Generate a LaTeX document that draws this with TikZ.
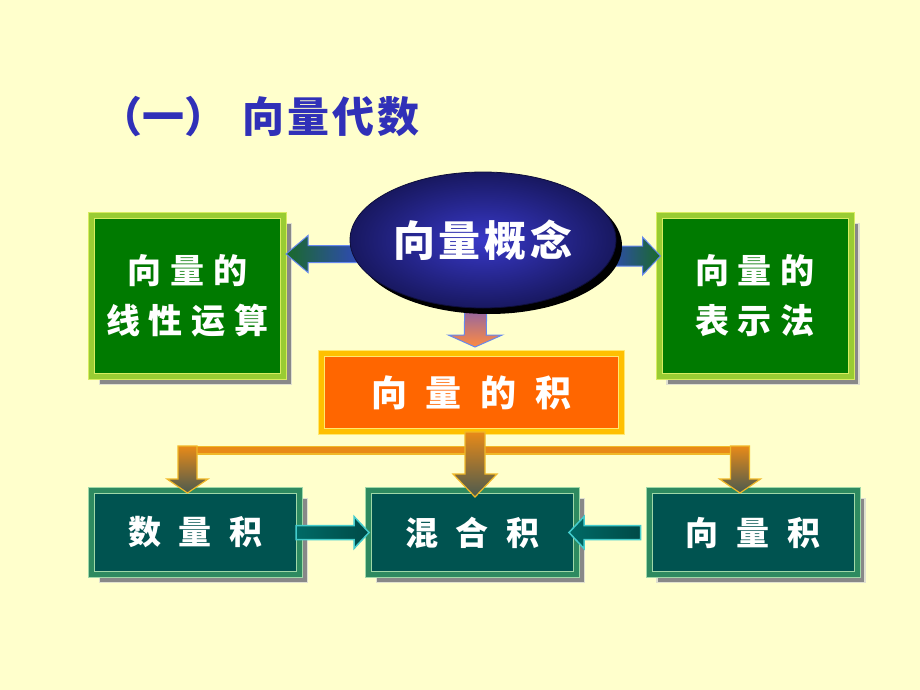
\documentclass[tikz,border=0pt]{standalone}
\usepackage{fontspec}
\newfontfamily\cjk{Noto Sans CJK SC}
\usetikzlibrary{calc,shapes.geometric,shadows}
\definecolor{bgc}{HTML}{FFFFCC}
\definecolor{titlec}{HTML}{3030B8}
\definecolor{gfill}{HTML}{007A00}
\definecolor{gband}{HTML}{99CC33}
\definecolor{gline}{HTML}{D8EC60}
\definecolor{ofill}{HTML}{FF6600}
\definecolor{oband}{HTML}{FFC000}
\definecolor{oline}{HTML}{FFE870}
\definecolor{tfill}{HTML}{005350}
\definecolor{tband}{HTML}{2E8A60}
\definecolor{tline}{HTML}{A0D8A8}
\definecolor{shadowc}{HTML}{888888}
\definecolor{shadowl}{HTML}{E0E0D0}
\definecolor{ein}{HTML}{3838C8}
\definecolor{eout}{HTML}{181860}
\definecolor{abl}{HTML}{3344CC}
\definecolor{agr}{HTML}{1A6A2A}
\definecolor{aline}{HTML}{6688EE}
\definecolor{aor}{HTML}{FF8C40}
\definecolor{apu}{HTML}{6655CC}
\definecolor{cgold}{HTML}{F0B828}
\definecolor{cor}{HTML}{E88A18}
\definecolor{cdark}{HTML}{4A5A50}
\definecolor{tearr}{HTML}{006A66}
\definecolor{tedge}{HTML}{44CCCC}

% horizontal / vertical block arrows: tail, tip, shaft half, head half, head length, style
\newcommand\harrow[6]{%
  \coordinate (hb) at ($(#2)!#5pt!(#1)$);
  \path[#6] ($(#1)+(0,-#3)$) -- ($(hb)+(0,-#3)$) -- ($(hb)+(0,-#4)$) -- (#2)
    -- ($(hb)+(0,#4)$) -- ($(hb)+(0,#3)$) -- ($(#1)+(0,#3)$) -- cycle;}
\newcommand\varrow[6]{%
  \coordinate (hb) at ($(#2)!#5pt!(#1)$);
  \path[#6] ($(#1)+(-#3,0)$) -- ($(hb)+(-#3,0)$) -- ($(hb)+(-#4,0)$) -- (#2)
    -- ($(hb)+(#4,0)$) -- ($(hb)+(#3,0)$) -- ($(#1)+(#3,0)$) -- cycle;}

\begin{document}
\begin{tikzpicture}[x=1pt,y=-1pt,
  boxshadow/.style={general shadow={fill=shadowc, draw=shadowl, line width=1.2pt, shadow xshift=8pt, shadow yshift=-8pt}},
  gbox/.style={boxshadow, draw=gline, double=gband, double distance=5pt, line width=1pt, fill=gfill,
    minimum width=192pt, minimum height=161pt, inner sep=0pt, text=white,
    font=\cjk\bfseries\fontsize{34}{50}\selectfont, align=center},
  obox/.style={draw=oline, double=oband, double distance=5pt, line width=1pt, fill=ofill,
    minimum width=300pt, minimum height=78pt, inner sep=0pt, text=white,
    font=\cjk\bfseries\fontsize{36}{40}\selectfont},
  tbox/.style={boxshadow, draw=tline, double=tband, double distance=5pt, line width=1pt, fill=tfill,
    minimum width=208pt, minimum height=84pt, inner sep=0pt, text=white,
    font=\cjk\bfseries\fontsize{33}{40}\selectfont},
  bluearrowL/.style={left color=agr, right color=abl, draw=aline, line width=1pt},
  bluearrowR/.style={left color=abl, right color=agr, draw=aline, line width=1pt},
  downarrow/.style={top color=apu, bottom color=aor, draw=aline, line width=1pt},
  orarrow/.style={top color=cor, bottom color=cdark, draw=cgold, line width=1.2pt},
  tearrow/.style={left color=tearr, right color=tearr!70!black, draw=tedge, line width=1.5pt},
]
\useasboundingbox (0,0) rectangle (920,690);
\fill[bgc] (0,0) rectangle (920,690);

% title
\node[anchor=west, text=titlec, font=\cjk\bfseries\fontsize{42}{46}\selectfont, inner sep=0pt] (T) at (100,117) {（一）\kern16pt 向\kern3pt 量\kern3pt 代\kern3pt 数};

% boxes
\node[gbox] (L) at (187.5,296) {向\kern9pt 量\kern9pt 的\\线\kern9pt 性\kern9pt 运\kern9pt 算};
\node[gbox] (R) at (755,296) {向\kern9pt 量\kern9pt 的\\表\kern9pt 示\kern9pt 法};
\node[obox] (O) at (471.5,392.5) {向\kern19pt 量\kern19pt 的\kern19pt 积};
\node[tbox] (B1) at (195.5,532.5) {数\kern18pt 量\kern18pt 积};
\node[tbox] (B2) at (472.5,532.5) {混\kern18pt 合\kern18pt 积};
\node[tbox] (B3) at (753,532.5) {向\kern18pt 量\kern18pt 积};

% orange distribution connector
\coordinate (hl) at (178,450);
\coordinate (hr) at (750,450);
\draw[cgold, line width=9pt] (hl) -- (hr);
\draw[cor, line width=5.5pt] (hl) -- (hr);
\coordinate (d1t) at (187.5,446);
\coordinate (d1) at ($(B1.north)+(-8,3)$);
\coordinate (d3t) at (740,446);
\coordinate (d3) at ($(B3.north)+(-13,3)$);
\varrow{d1t}{d1}{9.5}{20.5}{14}{orarrow}
\varrow{d3t}{d3}{9.5}{20.5}{14}{orarrow}
\coordinate (ct) at ($(O.south)+(3.5,0)$);
\coordinate (cp) at ($(B2.north)+(2.5,7)$);
\varrow{ct}{cp}{10}{22}{23}{orarrow}

% bottom side arrows
\coordinate (s1t) at ($(B1.east)+(-4,0)$);
\coordinate (s1p) at ($(B2.west)+(1,0)$);
\harrow{s1t}{s1p}{7}{16}{15}{tearrow}
\coordinate (s3t) at ($(B3.west)+(-8,0)$);
\coordinate (s3p) at ($(B2.east)+(-8,0)$);
\harrow{s3t}{s3p}{7}{16}{15}{tearrow}

% arrows from the concept ellipse
\coordinate (E0) at (483,240);
\coordinate (lt) at (370,254);
\coordinate (lp) at ($(L.east |- lt)+(2,0)$);
\harrow{lt}{lp}{8.5}{18.5}{22}{bluearrowL}
\coordinate (rt) at (600,256);
\coordinate (rp) at ($(R.west |- rt)+(2,0)$);
\harrow{rt}{rp}{10}{19}{18}{bluearrowR}
\coordinate (dt) at (476,295);
\coordinate (dp) at ($(O.north)+(3.5,-6)$);
\varrow{dt}{dp}{11}{27}{12}{downarrow}

% concept ellipse
\node[ellipse, minimum width=266pt, minimum height=136pt, inner color=ein, outer color=eout,
  draw=eout!60!black, line width=0.8pt,
  general shadow={fill=black, shadow xshift=6pt, shadow yshift=-6pt},
  text=white, font=\cjk\bfseries\fontsize{42}{46}\selectfont] (E) at (E0) {向\kern4pt 量\kern4pt 概\kern4pt 念};
\end{tikzpicture}
\end{document}
